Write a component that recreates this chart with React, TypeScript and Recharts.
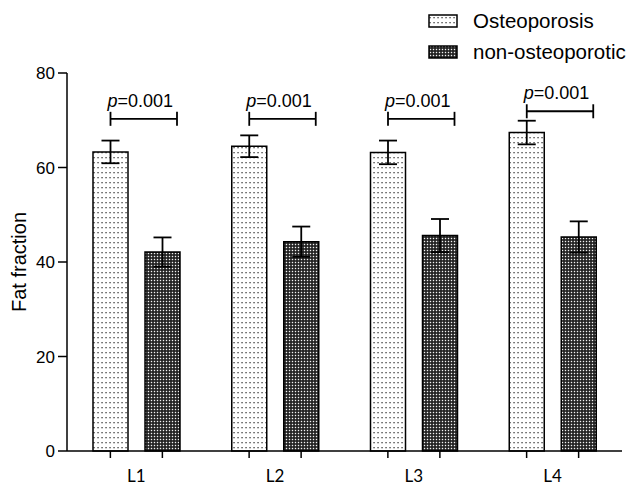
import React from 'react';
import { BarChart, Bar, XAxis, YAxis, ErrorBar, Legend, Label } from 'recharts';

const categories = ['L1', 'L2', 'L3', 'L4'];
const osteoporosis = [63.3, 64.5, 63.2, 67.4];
const osteoporosisErr = [2.4, 2.3, 2.5, 2.5];
const nonOsteoporotic = [42.1, 44.3, 45.6, 45.3];
const nonOsteoporoticErr = [3.1, 3.2, 3.5, 3.3];
const pValues = ['0.001', '0.001', '0.001', '0.001'];
const bracketLevel = [70.3, 70.3, 70.3, 71.9];
const yTicks = [0, 20, 40, 60, 80];
const seriesNames = ['Osteoporosis', 'non-osteoporotic'];
const yTitle = 'Fat fraction';

const data = categories.map((c, i) => ({
  name: c,
  ost: osteoporosis[i],
  ostErr: osteoporosisErr[i],
  non: nonOsteoporotic[i],
  nonErr: nonOsteoporoticErr[i],
}));

const BAR_SIZE = 35;
const BAR_GAP = 17;
const SANS = '"Liberation Sans", Arial, sans-serif';

const Patterns = ({ prefix }: { prefix: string }) => (
  <defs>
    <pattern id={`${prefix}-dots`} width={4} height={5} patternUnits="userSpaceOnUse">
      <rect width={4} height={5} fill="#fff" />
      <rect x={1.4} y={2} width={1.3} height={1.3} fill="#3a3a3a" />
    </pattern>
    <pattern id={`${prefix}-check`} width={3} height={3} patternUnits="userSpaceOnUse">
      <rect width={3} height={3} fill="#1c1c1c" />
      <rect x={0.8} y={0.8} width={1.4} height={1.4} fill="#f2f2f2" />
    </pattern>
  </defs>
);

const renderP = (props: any) => {
  const { x, y, width, height, value, index } = props;
  if (value == null || !height) return null;
  const base = y + height;
  const pxPerUnit = height / value;
  const by = base - bracketLevel[index] * pxPerUnit;
  const x0 = x + width / 2;
  const x1 = x + 2 * width + BAR_GAP - 3;
  return (
    <g key={`p-${index}`}>
      <line x1={x0} y1={by} x2={x1} y2={by} stroke="#000" strokeWidth={1.8} />
      <line x1={x0} y1={by - 7} x2={x0} y2={by + 7} stroke="#000" strokeWidth={1.8} />
      <line x1={x1} y1={by - 7} x2={x1} y2={by + 7} stroke="#000" strokeWidth={1.8} />
      <text x={x0 - 3} y={by - 12} fontSize={18} fontFamily={SANS} fill="#000">
        <tspan fontStyle="italic">p</tspan>
        <tspan>{`=${pValues[index]}`}</tspan>
      </text>
    </g>
  );
};

const XTick = (props: any) => {
  const { x, y, payload } = props;
  const off = (BAR_SIZE + BAR_GAP) / 2;
  return (
    <g>
      <line x1={x - off} y1={y - 7} x2={x - off} y2={y} stroke="#000" strokeWidth={1.5} />
      <line x1={x + off} y1={y - 7} x2={x + off} y2={y} stroke="#000" strokeWidth={1.5} />
      <text x={x} y={y + 24} textAnchor="middle" fontSize={17} fontFamily="Lato, sans-serif" fill="#000">
        {payload.value}
      </text>
    </g>
  );
};

const YTitle = (props: any) => {
  const vb = props.viewBox || {};
  const cx = 19;
  const cy = (vb.y ?? 73) + (vb.height ?? 378) / 2;
  return (
    <text
      x={cx}
      y={cy}
      transform={`rotate(-90, ${cx}, ${cy})`}
      textAnchor="middle"
      dominantBaseline="central"
      fontSize={20}
      fontFamily={SANS}
      fill="#000"
    >
      {yTitle}
    </text>
  );
};

const LegendContent = () => (
  <svg width={626} height={70} style={{ display: 'block' }}>
    <Patterns prefix="lg" />
    <rect x={429} y={15} width={28} height={12} fill="url(#lg-dots)" stroke="#000" strokeWidth={1.5} />
    <text x={473} y={28} fontSize={20.5} fontFamily={SANS} fill="#000">{seriesNames[0]}</text>
    <rect x={429} y={46} width={28} height={12} fill="url(#lg-check)" stroke="#000" strokeWidth={1.5} />
    <text x={473} y={59} fontSize={20.5} fontFamily={SANS} fill="#000">{seriesNames[1]}</text>
  </svg>
);

export default function App() {
  return (
    <div style={{ position: 'absolute', left: 0, top: 0, width: 626, height: 486, background: '#fff' }}>
      <BarChart
        width={626}
        height={486}
        data={data}
        margin={{ top: 73, right: 4, bottom: 0, left: 0 }}
        barGap={BAR_GAP}
        barSize={BAR_SIZE}
      >
        <Patterns prefix="ch" />
        <XAxis
          dataKey="name"
          height={35}
          tickSize={7}
          tickMargin={0}
          tickLine={false}
          axisLine={{ stroke: '#000', strokeWidth: 1.5 }}
          tick={<XTick />}
          interval={0}
        />
        <YAxis
          width={67}
          domain={[0, 80]}
          ticks={yTicks}
          tickSize={9}
          tickMargin={3}
          axisLine={{ stroke: '#000', strokeWidth: 1.5 }}
          tickLine={{ stroke: '#000', strokeWidth: 1.5 }}
          tick={{ fontSize: 17, fill: '#000', fontFamily: SANS }}
        >
          <Label content={<YTitle />} />
        </YAxis>
        <Legend
          layout="horizontal"
          verticalAlign="middle"
          align="center"
          content={<LegendContent />}
          wrapperStyle={{ top: 0, left: 0, width: 626, height: 70 }}
        />
        <Bar dataKey="ost" name={seriesNames[0]} fill="url(#ch-dots)" stroke="#000" strokeWidth={1.5} isAnimationActive={false} label={renderP}>
          <ErrorBar dataKey="ostErr" width={9} stroke="#000" strokeWidth={1.8} direction="y" isAnimationActive={false} />
        </Bar>
        <Bar dataKey="non" name={seriesNames[1]} fill="url(#ch-check)" stroke="#000" strokeWidth={1.5} isAnimationActive={false}>
          <ErrorBar dataKey="nonErr" width={9} stroke="#000" strokeWidth={1.8} direction="y" isAnimationActive={false} />
        </Bar>
      </BarChart>
    </div>
  );
}
